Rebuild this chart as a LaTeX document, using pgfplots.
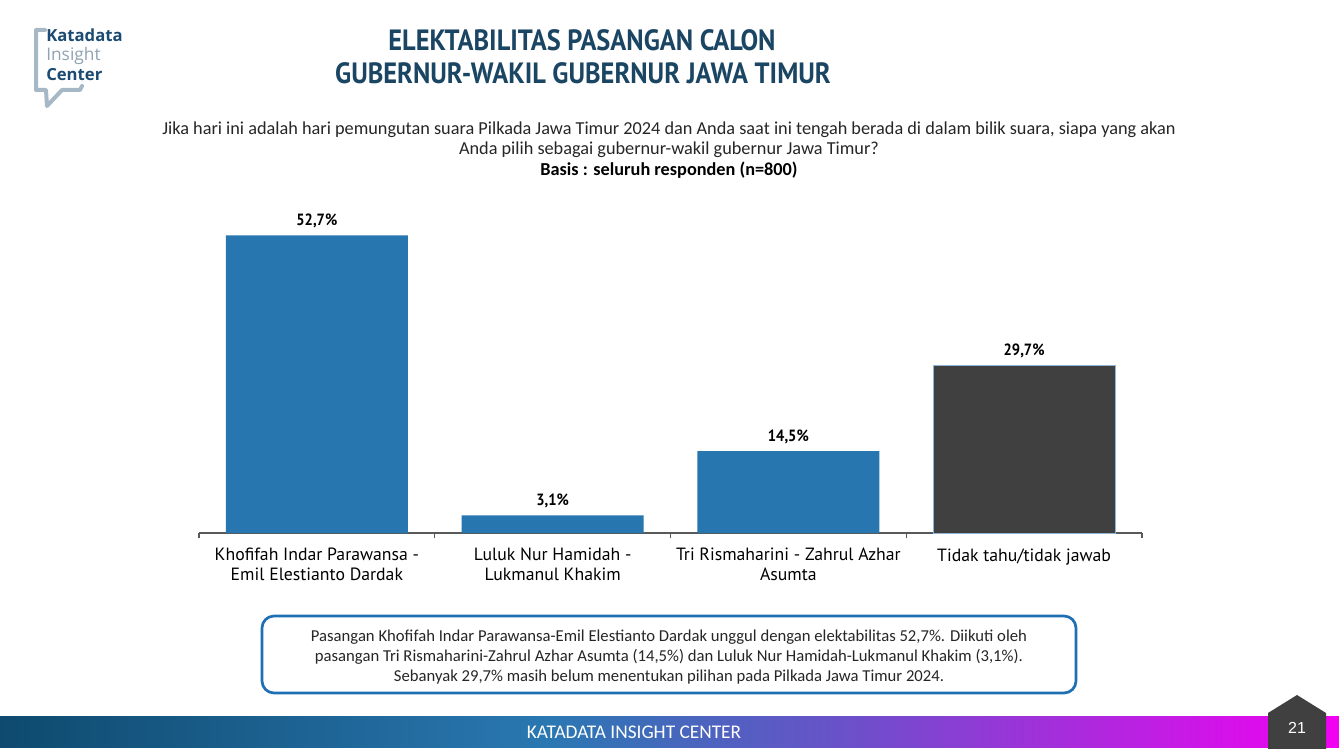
\documentclass[border=0pt]{standalone}
\usepackage{fontspec}
\usepackage{pgfplots}
\pgfplotsset{compat=1.18}
\setmainfont{Carlito}
\newfontfamily\din{PT Sans}[FakeStretch=0.9]
\newfontfamily\dinw{PT Sans}
\newfontfamily\logofont{Open Sans}
\newfontfamily\arialf{Liberation Sans}

\definecolor{titlenavy}{HTML}{1A4563}
\definecolor{barblue}{HTML}{2876B0}
\definecolor{bardark}{HTML}{404040}
\definecolor{baredge}{HTML}{8FB4D6}
\definecolor{axisgray}{HTML}{595959}
\definecolor{boxblue}{HTML}{1F6FB4}
\definecolor{subgray}{HTML}{262626}
\definecolor{logonavy}{HTML}{1B4A72}
\definecolor{logogray}{HTML}{8FA3B3}
\definecolor{bubble}{HTML}{A6B8C6}
\definecolor{gA}{HTML}{0E4A6E}
\definecolor{gB}{HTML}{2A78B2}
\definecolor{gC}{HTML}{6C50CA}
\definecolor{gD}{HTML}{F200F2}

\begin{document}
\begin{tikzpicture}
% page furniture, drawn in pixel units (origin top left)
\begin{scope}[x=0.75pt,y=-0.75pt]
  \path[use as bounding box, fill=white] (0,0) rectangle (1339,749);

  % logo
  \draw[bubble, line width=3pt, line join=round, line cap=round]
    (45,30) -- (36,30) -- (36,90) -- (46,90) -- (47,106) -- (62,90) -- (80,90) -- (82,86);
  \node[anchor=base west, inner sep=0, text=logonavy, font=\logofont\bfseries\fontsize{12.5}{14}\selectfont] at (46,42) {Katadata};
  \node[anchor=base west, inner sep=0, text=logogray, font=\logofont\fontsize{13}{14}\selectfont] at (46,61) {Insight};
  \node[anchor=base west, inner sep=0, text=logonavy, font=\logofont\bfseries\fontsize{12.5}{14}\selectfont] at (46,80) {Center};

  % title
  \node[anchor=base, inner sep=0, text=titlenavy, font=\din\bfseries\fontsize{22}{26}\selectfont] at (582,51) {ELEKTABILITAS PASANGAN CALON};
  \node[anchor=base, inner sep=0, text=titlenavy, font=\din\bfseries\fontsize{22}{26}\selectfont] at (583,84) {GUBERNUR-WAKIL GUBERNUR JAWA TIMUR};

  % question
  \node[anchor=base, inner sep=0, text=subgray, font=\fontsize{13.7}{16}\selectfont] at (669,134) {Jika hari ini adalah hari pemungutan suara Pilkada Jawa Timur 2024 dan Anda saat ini tengah berada di dalam bilik suara, siapa yang akan};
  \node[anchor=base, inner sep=0, text=subgray, font=\fontsize{13.7}{16}\selectfont] at (669,154) {Anda pilih sebagai gubernur-wakil gubernur Jawa Timur?};
  \node[anchor=base, inner sep=0, text=black, font=\bfseries\fontsize{13.7}{16}\selectfont] at (669,175) {Basis : seluruh responden (n=800)};

  % note box
  \draw[boxblue, line width=2pt, rounded corners=9pt] (262,616) rectangle (1076,693);
  \node[anchor=base, inner sep=0, text=subgray, font=\fontsize{12.5}{15}\selectfont] at (669,641) {Pasangan Khofifah Indar Parawansa-Emil Elestianto Dardak unggul dengan elektabilitas 52,7\%. Diikuti oleh};
  \node[anchor=base, inner sep=0, text=subgray, font=\fontsize{12.5}{15}\selectfont] at (669,661) {pasangan Tri Rismaharini-Zahrul Azhar Asumta (14,5\%) dan Luluk Nur Hamidah-Lukmanul Khakim (3,1\%).};
  \node[anchor=base, inner sep=0, text=subgray, font=\fontsize{12.5}{15}\selectfont] at (669,681) {Sebanyak 29,7\% masih belum menentukan pilihan pada Pilkada Jawa Timur 2024.};

  % footer band
  \shade[left color=gA, right color=gB] (0,716) rectangle (551,747);
  \shade[left color=gB, right color=gC] (550,716) rectangle (851,747);
  \shade[left color=gC, right color=gD] (850,716) rectangle (1339,747);
  \node[anchor=base, inner sep=0, text=white, font=\fontsize{14.5}{16}\selectfont] at (634,738) {KATADATA INSIGHT CENTER};

  % page badge
  \fill[bardark] (1297,695) -- (1326,713) -- (1326,749) -- (1268,749) -- (1268,713) -- cycle;
  \node[anchor=base, inner sep=0, text=white, font=\arialf\fontsize{12}{14}\selectfont] at (1297,733) {21};
\end{scope}

\begin{axis}[
  at={(149.25pt,-399.75pt)}, anchor=south west,
  scale only axis, width=707.25pt, height=254.25pt,
  xmin=-0.5, xmax=3.5, ymin=0, ymax=60,
  axis x line*=bottom, axis y line=none,
  x axis line style={draw=axisgray, line width=0.9pt},
  xtick={-0.5,0.5,1.5,2.5,3.5}, xticklabels={},
  tick align=outside, major tick length=4pt,
  x tick style={draw=axisgray, line width=0.9pt},
  extra x ticks={0,1,2,3},
  extra x tick labels={
    {Khofifah Indar Parawansa -\\Emil Elestianto Dardak},
    {Luluk Nur Hamidah -\\Lukmanul Khakim},
    {Tri Rismaharini - Zahrul Azhar\\Asumta},
    {Tidak tahu/tidak jawab}},
  extra x tick style={major tick length=0pt,
    tick label style={align=center, text=black, yshift=-8pt,
      font=\dinw\fontsize{13.3}{15}\selectfont}},
  ybar, bar width=136.5pt,
  /pgf/number format/assume math mode=true,
  nodes near coords={\pgfmathprintnumber[fixed,fixed zerofill,precision=1,use comma]{\pgfplotspointmeta}\%},
  every node near coord/.append style={text=black, yshift=2pt,
    font=\din\bfseries\fontsize{12.2}{14}\selectfont},
  clip=false,
]
\addplot[fill=barblue, draw=none, bar shift=0pt] coordinates {(0,52.7) (1,3.1) (2,14.5)};
\addplot[fill=bardark, draw=baredge, line width=0.6pt, bar shift=0pt] coordinates {(3,29.7)};
\end{axis}
\end{tikzpicture}
\end{document}
